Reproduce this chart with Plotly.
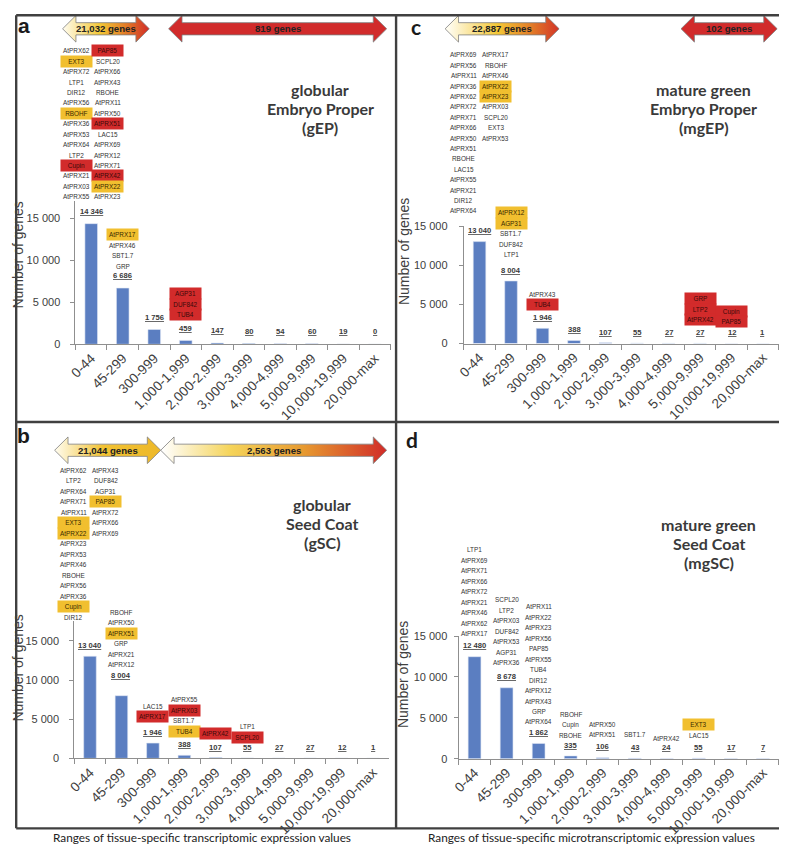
import plotly.graph_objects as go

W, H = 787, 851
OFF = 8  # the page body margin shifts the figure by this many pixels

# ---------------- data ----------------
CATEGORIES = ["0-44", "45-299", "300-999", "1,000-1,999", "2,000-2,999",
              "3,000-3,999", "4,000-4,999", "5,000-9,999", "10,000-19,999", "20,000-max"]

COUNTS_GEP = [14346, 6686, 1756, 459, 147, 80, 54, 60, 19, 0]
COUNTS_GSC = [13040, 8004, 1946, 388, 107, 55, 27, 27, 12, 1]
COUNTS_MGEP = [13040, 8004, 1946, 388, 107, 55, 27, 27, 12, 1]
COUNTS_MGSC = [12480, 8678, 1862, 335, 106, 43, 24, 55, 17, 7]

Y_TICK_VALUES = [0, 5000, 10000, 15000]
Y_TICK_LABELS = ["0", "5 000", "10 000", "15 000"]

TITLE_GEP = ["globular", "Embryo Proper", "(gEP)"]
TITLE_GSC = ["globular", "Seed Coat", "(gSC)"]
TITLE_MGEP = ["mature green", "Embryo Proper", "(mgEP)"]
TITLE_MGSC = ["mature green", "Seed Coat", "(mgSC)"]

ARROWS_GEP = ["21,032 genes", "819 genes"]
ARROWS_GSC = ["21,044 genes", "2,563 genes"]
ARROWS_MGEP = ["22,887 genes", "102 genes"]

XLABEL_LEFT = "Ranges of tissue-specific transcriptomic expression values"
XLABEL_RIGHT = "Ranges of tissue-specific microtranscriptomic expression values"

# gene lists (top to bottom); ":y" = yellow highlight, ":r" = red highlight
GEP_0_L = ["AtPRX62", "EXT3:y", "AtPRX72", "LTP1", "DIR12", "AtPRX56", "RBOHF:y", "AtPRX36",
           "AtPRX53", "AtPRX64", "LTP2", "Cupin:r", "AtPRX21", "AtPRX03", "AtPRX55"]
GEP_0_R = ["PAP85:r", "SCPL20", "AtPRX66", "AtPRX43", "RBOHE", "AtPRX11", "AtPRX50", "AtPRX51:r",
           "LAC15", "AtPRX69", "AtPRX12", "AtPRX71", "AtPRX42:r", "AtPRX22:y", "AtPRX23"]
GEP_1 = ["AtPRX17:y", "AtPRX46", "SBT1.7", "GRP"]
GEP_3 = ["AGP31:r", "DUF842:r", "TUB4:r"]

GSC_0_L = ["AtPRX62", "LTP2", "AtPRX64", "AtPRX71", "AtPRX11", "EXT3:y", "AtPRX22:y", "AtPRX23",
           "AtPRX53", "AtPRX46", "RBOHE", "AtPRX56", "AtPRX36", "Cupin:y", "DIR12"]
GSC_0_R = ["AtPRX43", "DUF842", "AGP31", "PAP85:y", "AtPRX72", "AtPRX66", "AtPRX69"]
GSC_1 = ["RBOHF", "AtPRX50", "AtPRX51:y", "GRP", "AtPRX21", "AtPRX12"]
GSC_2 = ["LAC15", "AtPRX17:r"]
GSC_3 = ["AtPRX55", "AtPRX03:r", "SBT1.7", "TUB4:y"]
GSC_4 = ["AtPRX42:r"]
GSC_5 = ["LTP1", "SCPL20:r"]

MGEP_0_L = ["AtPRX69", "AtPRX56", "AtPRX11", "AtPRX36", "AtPRX62", "AtPRX72", "AtPRX71", "AtPRX66",
            "AtPRX50", "AtPRX51", "RBOHE", "LAC15", "AtPRX55", "AtPRX21", "DIR12", "AtPRX64"]
MGEP_0_R = ["AtPRX17", "RBOHF", "AtPRX46", "AtPRX22:y", "AtPRX23:y", "AtPRX03", "SCPL20", "EXT3", "AtPRX53"]
MGEP_1 = ["AtPRX12:y", "AGP31:y", "SBT1.7", "DUF842", "LTP1"]
MGEP_2 = ["AtPRX43", "TUB4:r"]
MGEP_7 = ["GRP:r", "LTP2:r", "AtPRX42:r"]
MGEP_8 = ["Cupin:r", "PAP85:r"]

MGSC_0 = ["LTP1", "AtPRX69", "AtPRX71", "AtPRX66", "AtPRX72", "AtPRX21", "AtPRX46", "AtPRX62", "AtPRX17"]
MGSC_1 = ["SCPL20", "LTP2", "AtPRX03", "DUF842", "AtPRX53", "AGP31", "AtPRX36"]
MGSC_2 = ["AtPRX11", "AtPRX22", "AtPRX23", "AtPRX56", "PAP85", "AtPRX55", "TUB4", "DIR12",
          "AtPRX12", "AtPRX43", "GRP", "AtPRX64"]
MGSC_3 = ["RBOHF", "Cupin", "RBOHE"]
MGSC_4 = ["AtPRX50", "AtPRX51"]
MGSC_5 = ["SBT1.7"]
MGSC_6 = ["AtPRX42"]
MGSC_7 = ["EXT3:y", "LAC15"]

# ---------------- styling ----------------
BAR_COLOR = "#5B7EC1"
AXIS_COLOR = "#8f8f8f"
YELLOW = "#F1BF2F"
RED = "#D22B2B"
FRAME = "#404040"
ARIAL = "Liberation Sans, Arial, sans-serif"
CAL = "Lato, Open Sans, sans-serif"

# all positions below are in screen pixels of the reference picture
PANELS = {
    "a": dict(ax="", counts=COUNTS_GEP, x0=69, x1=387, yb=343, yt=198, ymax=17000,
              lift=12.3, row=10.43, standoff=8, title=TITLE_GEP, tx=316, ty=85,
              ytitle=(11, 252), letter=("a", 17, 20, ARIAL)),
    "b": dict(ax="2", counts=COUNTS_GSC, x0=67.8, x1=385.1, yb=763, yt=624, ymax=17500,
              lift=10.5, row=10.52, standoff=8, title=TITLE_GSC, tx=318, ty=506,
              ytitle=(11, 671), letter=("b", 17, 436, ARIAL)),
    "c": dict(ax="3", counts=COUNTS_MGEP, x0=460.8, x1=778.6, yb=342.3, yt=223.3, ymax=15000,
              lift=10.7, row=10.4, standoff=9, title=TITLE_MGEP, tx=703, ty=85,
              ytitle=(400, 249), letter=("c", 413, 21, CAL)),
    "d": dict(ax="4", counts=COUNTS_MGSC, x0=455.5, x1=778.8, yb=763.3, yt=639, ymax=15000,
              lift=10.8, row=10.45, standoff=4, title=TITLE_MGSC, tx=708, ty=526,
              ytitle=(399, 678), letter=("d", 409, 440, CAL)),
}
LABEL_LIFT_EXCEPTIONS = {("b", 1): 20}

# (panel, category index, items, x shift px, gap above value label px, top-align rows)
GENE_GROUPS = [
    ("a", 0, GEP_0_L, -14.5, 14.5, None), ("a", 0, GEP_0_R, 16.5, 14.5, None),
    ("a", 1, GEP_1, 0, 9.5, None), ("a", 3, GEP_3, 0, 13.5, None),
    ("b", 0, GSC_0_L, -16, 28.3, None), ("b", 0, GSC_0_R, 16, 28.3, len(GSC_0_L)),
    ("b", 1, GSC_1, 0, 11, None), ("b", 2, GSC_2, 0, 16, None), ("b", 3, GSC_3, 0, 13.6, None),
    ("b", 4, GSC_4, 0, 13.3, None), ("b", 5, GSC_5, 0, 10, None),
    ("c", 0, MGEP_0_L, -16, 20, None), ("c", 0, MGEP_0_R, 16, 20, len(MGEP_0_L)),
    ("c", 1, MGEP_1, 0, 15.7, None), ("c", 2, MGEP_2, 0, 12.7, None),
    ("c", 7, MGEP_7, 0, 13, None), ("c", 8, MGEP_8, 0, 11, None),
    ("d", 0, MGSC_0, 0, 12.3, None), ("d", 1, MGSC_1, 0, 14.3, None), ("d", 2, MGSC_2, 0, 10.7, None),
    ("d", 3, MGSC_3, 0, 10, None), ("d", 4, MGSC_4, 0, 12, None), ("d", 5, MGSC_5, 0, 12.6, None),
    ("d", 6, MGSC_6, 0, 9, None), ("d", 7, MGSC_7, 0, 12.3, None),
]

GRAD_WARM = [[0, "#FFFCEE"], [0.42, "#F4C836"], [0.72, "#E27B27"], [1, "#D02828"]]
GRAD_YEL = [[0, "#FFFCEE"], [0.45, "#F2C232"], [1, "#EDB829"]]
GRAD_WARM2 = [[0, "#FFFFFF"], [0.3, "#F5D45A"], [0.62, "#E79A30"], [1, "#D02828"]]
SOLID_RED = [[0, "#D12B2B"], [1, "#D12B2B"]]

# (x left tip, x right tip, y centre, gradient, label)
ARROW_SPECS = [
    (56, 143.5, 23, GRAD_WARM, ARROWS_GEP[0]),
    (163, 383, 23, SOLID_RED, ARROWS_GEP[1]),
    (48, 155, 450.5, GRAD_YEL, ARROWS_GSC[0]),
    (155, 383, 450.5, GRAD_WARM2, ARROWS_GSC[1]),
    (442, 557, 23, GRAD_WARM, ARROWS_MGEP[0]),
    (680, 777, 23, SOLID_RED, ARROWS_MGEP[1]),
]


def fx(px):
    return (px - OFF) / W


def fy(py):
    return 1 - (py - OFF) / H


def fmt(v):
    return f"{v:,}".replace(",", " ")


fig = go.Figure()
anns = []
shapes = []

for key, p in PANELS.items():
    ax = p["ax"]
    xa, ya = "x" + ax, "y" + ax
    fig.add_trace(go.Bar(x=CATEGORIES, y=p["counts"], xaxis=xa, yaxis=ya,
                         marker=dict(color=BAR_COLOR, line=dict(color="#dfe6f3", width=0.6)),
                         width=0.4, showlegend=False, hoverinfo="skip"))
    fig.layout["xaxis" + ax] = dict(
        domain=[fx(p["x0"]), fx(p["x1"])], anchor=ya, type="category",
        categoryorder="array", categoryarray=CATEGORIES, range=[-0.5, 9.5],
        showline=True, linecolor=AXIS_COLOR, linewidth=1, ticks="outside",
        tickson="boundaries", ticklen=5, tickcolor=AXIS_COLOR, tickangle=-45,
        tickfont=dict(family=ARIAL, size=13.5, color="#404040"),
        showgrid=False, zeroline=False, fixedrange=True)
    fig.layout["yaxis" + ax] = dict(
        domain=[fy(p["yb"]), fy(p["yt"])], anchor=xa, range=[0, p["ymax"]],
        tickvals=Y_TICK_VALUES, ticktext=Y_TICK_LABELS, showline=True,
        linecolor=AXIS_COLOR, linewidth=1, ticks="outside", ticklen=4, tickcolor=AXIS_COLOR,
        tickfont=dict(family=ARIAL, size=11, color="#404040"), ticklabelstandoff=p["standoff"],
        showgrid=False, zeroline=False, fixedrange=True)

    for i, (c, v) in enumerate(zip(CATEGORIES, p["counts"])):
        lift = LABEL_LIFT_EXCEPTIONS.get((key, i), p["lift"])
        anns.append(dict(xref=xa, yref=ya, x=c, y=v, yshift=lift, showarrow=False,
                         text="<b><u>" + fmt(v) + "</u></b>", xanchor="center", yanchor="middle",
                         font=dict(family=ARIAL, size=7.6, color="#3a3a3a")))

    for j, line in enumerate(p["title"]):
        anns.append(dict(xref="x5", yref="y5", x=p["tx"], y=p["ty"] + j * 19, text="<b>" + line + "</b>",
                         showarrow=False, xanchor="center", yanchor="middle",
                         font=dict(family=CAL, size=16, color="#3a3a3a")))
    anns.append(dict(xref="x5", yref="y5", x=p["ytitle"][0], y=p["ytitle"][1], text="Number of genes",
                     textangle=-90, showarrow=False, xanchor="center", yanchor="middle",
                     font=dict(family=ARIAL, size=14, color="#404040")))
    lt, lx, ly, lf = p["letter"]
    anns.append(dict(xref="x5", yref="y5", x=lx, y=ly, text="<b>" + lt + "</b>", showarrow=False,
                     xanchor="center", yanchor="middle", font=dict(family=lf, size=21, color="#1a1a1a")))

for key, cat, items, xs, gap, top_rows in GENE_GROUPS:
    p = PANELS[key]
    ax = p["ax"]
    base = LABEL_LIFT_EXCEPTIONS.get((key, cat), p["lift"]) + gap
    n = len(items)
    for k, item in enumerate(items):
        name, _, hl = item.partition(":")
        r = (top_rows - 1 - k) if top_rows else (n - 1 - k)
        a = dict(xref="x" + ax, yref="y" + ax, x=CATEGORIES[cat], y=p["counts"][cat],
                 xshift=xs, yshift=base + r * p["row"], text=name, showarrow=False,
                 xanchor="center", yanchor="middle",
                 font=dict(family=ARIAL, size=6.4, color="#333333"))
        if hl:
            a.update(bgcolor=YELLOW if hl == "y" else RED, width=30, height=10.2, borderpad=0.4,
                     font=dict(family=ARIAL, size=6.4, color="#3a2a00" if hl == "y" else "#3a0a0a"))
        anns.append(a)

HEAD, HH, BH = 13.5, 13.5, 6.2
for x0, x1, yc, grad, label in ARROW_SPECS:
    xs = [x0, x0 + HEAD, x0 + HEAD, x1 - HEAD, x1 - HEAD, x1, x1 - HEAD, x1 - HEAD, x0 + HEAD, x0 + HEAD, x0]
    ys = [yc, yc - HH, yc - BH, yc - BH, yc - HH, yc, yc + HH, yc + BH, yc + BH, yc + HH, yc]
    fig.add_trace(go.Scatter(x=xs, y=ys, xaxis="x5", yaxis="y5", mode="lines", fill="toself",
                             fillgradient=dict(type="horizontal", colorscale=grad, start=x0, stop=x1),
                             line=dict(color="#7d7d7d", width=0.8), showlegend=False, hoverinfo="skip"))
    anns.append(dict(xref="x5", yref="y5", x=(x0 + x1) / 2, y=yc, text="<b>" + label + "</b>",
                     showarrow=False, xanchor="center", yanchor="middle",
                     font=dict(family=ARIAL, size=9.6, color="#222222")))

anns.append(dict(xref="x5", yref="y5", x=197, y=843, text=XLABEL_LEFT, showarrow=False,
                 xanchor="center", yanchor="middle", font=dict(family=CAL, size=11.8, color="#222222")))
anns.append(dict(xref="x5", yref="y5", x=590, y=843, text=XLABEL_RIGHT, showarrow=False,
                 xanchor="center", yanchor="middle", font=dict(family=CAL, size=11.8, color="#222222")))

frame_lines = [(9.2, 9.2, 785.5, 9.2), (9.2, 9.2, 9.2, 834), (785.5, 9.2, 785.5, 834),
               (9.2, 834, 785.5, 834), (392.5, 9.2, 392.5, 834), (9.2, 421.8, 785.5, 421.8)]
for xa0, ya0, xa1, ya1 in frame_lines:
    shapes.append(dict(type="line", xref="x5", yref="y5", x0=xa0, y0=ya0, x1=xa1, y1=ya1,
                       line=dict(color=FRAME, width=2.4), layer="above"))

fig.update_layout(
    xaxis5=dict(domain=[0, 1], range=[OFF, W + OFF], visible=False, fixedrange=True, anchor="y5"),
    yaxis5=dict(domain=[0, 1], range=[H + OFF, OFF], visible=False, fixedrange=True, anchor="x5"),
    width=W, height=H, autosize=False, margin=dict(l=0, r=0, t=0, b=0),
    paper_bgcolor="white", plot_bgcolor="rgba(0,0,0,0)", showlegend=False,
    annotations=anns, shapes=shapes, bargap=0.6,
)

fig.write_html("out.html")
